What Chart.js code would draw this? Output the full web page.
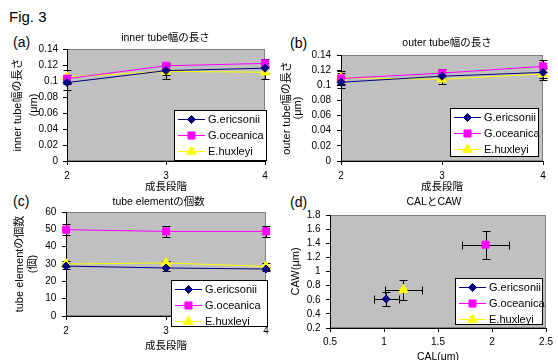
<!DOCTYPE html>
<html>
<head>
<meta charset="utf-8">
<script src="https://cdn.jsdelivr.net/npm/chart.js@4.4.0/dist/chart.umd.min.js"></script>
<style>
body { margin: 0; background: #fff; width: 558px; height: 360px; position: relative; overflow: hidden;
       font-family: "Liberation Sans", "Noto Sans CJK JP", sans-serif; }
.lbl { position: absolute; font-size: 14px; line-height: 1; color: #000; }
canvas { position: absolute; }
</style>
</head>
<body>
<div class="lbl" style="left:9px;top:9px;font-size:15px">Fig. 3</div>
<div class="lbl" style="left:13px;top:35px">(a)</div>
<div class="lbl" style="left:290px;top:36px">(b)</div>
<div class="lbl" style="left:13px;top:194px">(c)</div>
<div class="lbl" style="left:290px;top:195px">(d)</div>

<canvas id="chartA" width="279" height="170" style="left:0;top:25px"></canvas>
<canvas id="chartB" width="279" height="170" style="left:279px;top:25px"></canvas>
<canvas id="chartC" width="279" height="170" style="left:0;top:190px"></canvas>
<canvas id="chartD" width="279" height="175" style="left:279px;top:190px"></canvas>

<script>
// 成長段階とシリーズ名
var stages = ['2', '3', '4'];
var seriesNames = ['G.ericsonii', 'G.oceanica', 'E.huxleyi'];

// (a) inner tube幅の長さ (μm)
var innerEri = [0.098, 0.113, 0.116];
var innerOce = [0.103, 0.119, 0.122];
var innerHux = [0.105, 0.112, 0.111];
var innerEriErr = [0.009, 0.006, 0.006];
var innerOceErr = [0.005, 0.004, 0.005];
var innerHuxErr = [0.009, 0.009, 0.008];

// (b) outer tube幅の長さ (μm)
var outerEri = [0.104, 0.112, 0.117];
var outerOce = [0.109, 0.116, 0.125];
var outerHux = [0.110, 0.108, 0.115];
var outerEriErr = [0.007, 0.006, 0.008];
var outerOceErr = [0.007, 0.006, 0.008];
var outerHuxErr = [0.009, 0.006, 0.008];

// (c) tube elementの個数
var countEri = [28.8, 27.7, 27.1];
var countOce = [49.8, 48.8, 48.8];
var countHux = [30.0, 30.6, 28.6];
var countEriErr = [1.5, 1.6, 1.4];
var countOceErr = [3.1, 3.0, 3.0];
var countHuxErr = [1.5, 1.3, 2.0];

// (d) CALとCAW (μm)
var calX = [1.02, 1.94, 1.18];
var cawY = [0.61, 1.38, 0.74];
var calErr = [0.115, 0.22, 0.175];
var cawErr = [0.10, 0.20, 0.14];

// 目盛り
var tubeTicks = [0, 0.02, 0.04, 0.06, 0.08, 0.1, 0.12, 0.14];
var tubeTickLabels = ['0', '0.02', '0.04', '0.06', '0.08', '0.1', '0.12', '0.14'];
var countTicks = [0, 10, 20, 30, 40, 50, 60];
var countTickLabels = ['0', '10', '20', '30', '40', '50', '60'];
var calTicks = [0.5, 1, 1.5, 2, 2.5];
var calTickLabels = ['0.5', '1', '1.5', '2', '2.5'];
var cawTicks = [0.2, 0.4, 0.6, 0.8, 1, 1.2, 1.4, 1.6, 1.8];
var cawTickLabels = ['0.2', '0.4', '0.6', '0.8', '1', '1.2', '1.4', '1.6', '1.8'];

var FONT = '"Liberation Sans", "Noto Sans CJK JP", sans-serif';
Chart.defaults.font.family = FONT;
Chart.defaults.color = '#000';

var looks = [
    { color: '#000080', style: 'rectRot', radius: 4 },
    { color: '#ff00ff', style: 'rect', radius: 5 },
    { color: '#ffff00', style: 'triangle', radius: 5.5 }
];

// 灰色の背景、誤差範囲、タイトル、凡例を描く
var excelLook = {
    id: 'excelLook',
    beforeDraw: function (chart) {
        var a = chart.chartArea, ctx = chart.ctx;
        ctx.save();
        ctx.fillStyle = '#c0c0c0';
        ctx.fillRect(a.left, a.top, a.right - a.left, a.bottom - a.top);
        ctx.strokeStyle = '#808080';
        ctx.lineWidth = 1;
        ctx.strokeRect(a.left + 0.5, a.top + 0.5, a.right - a.left - 1, a.bottom - a.top - 1);
        ctx.restore();
    },
    beforeDatasetsDraw: function (chart) {
        var ctx = chart.ctx, xs = chart.scales.x, ys = chart.scales.y, cap = 4;
        ctx.save();
        ctx.strokeStyle = '#000';
        ctx.lineWidth = 1;
        chart.data.datasets.forEach(function (ds, di) {
            var meta = chart.getDatasetMeta(di);
            meta.data.forEach(function (pt, i) {
                var v = ds.data[i];
                var yv = typeof v === 'object' ? v.y : v;
                var x = Math.round(pt.x) + 0.5, y = Math.round(pt.y) + 0.5;
                if (ds.errY) {
                    var y1 = Math.round(ys.getPixelForValue(yv - ds.errY[i])) + 0.5;
                    var y2 = Math.round(ys.getPixelForValue(yv + ds.errY[i])) + 0.5;
                    ctx.beginPath();
                    ctx.moveTo(x, y1); ctx.lineTo(x, y2);
                    ctx.moveTo(x - cap, y1); ctx.lineTo(x + cap, y1);
                    ctx.moveTo(x - cap, y2); ctx.lineTo(x + cap, y2);
                    ctx.stroke();
                }
                if (ds.errX) {
                    var x1 = Math.round(xs.getPixelForValue(v.x - ds.errX[i])) + 0.5;
                    var x2 = Math.round(xs.getPixelForValue(v.x + ds.errX[i])) + 0.5;
                    ctx.beginPath();
                    ctx.moveTo(x1, y); ctx.lineTo(x2, y);
                    ctx.moveTo(x1, y - cap); ctx.lineTo(x1, y + cap);
                    ctx.moveTo(x2, y - cap); ctx.lineTo(x2, y + cap);
                    ctx.stroke();
                }
            });
        });
        ctx.restore();
    },
    afterDraw: function (chart, args, opts) {
        var ctx = chart.ctx, a = chart.chartArea;
        ctx.save();
        if (opts.title) {
            ctx.fillStyle = '#000';
            ctx.font = '10.5px ' + FONT;
            ctx.textAlign = 'center';
            ctx.textBaseline = 'middle';
            ctx.fillText(opts.title.text, (a.left + a.right) / 2 + opts.title.dx, opts.title.y);
            ctx.textAlign = 'left';
        }
        if (opts.box) {
            var b = opts.box;
            ctx.fillStyle = '#fff';
            ctx.fillRect(b[0], b[1], b[2], b[3]);
            ctx.strokeStyle = '#000';
            ctx.lineWidth = 1;
            ctx.strokeRect(b[0] + 0.5, b[1] + 0.5, b[2] - 1, b[3] - 1);
            chart.data.datasets.forEach(function (ds, i) {
                var y = Math.round(b[1] + 9 + i * 16) + 0.5;
                ctx.strokeStyle = ds.borderColor;
                ctx.beginPath();
                ctx.moveTo(b[0] + 4, y); ctx.lineTo(b[0] + 31, y);
                ctx.stroke();
                ctx.fillStyle = ds.backgroundColor;
                Chart.helpers.drawPoint(ctx, { pointStyle: ds.pointStyle, radius: ds.pointRadius, borderWidth: 1, rotation: 0 }, b[0] + 17.5, y);
                ctx.fillStyle = '#000';
                ctx.font = '11px ' + FONT;
                ctx.textBaseline = 'middle';
                ctx.fillText(ds.label, b[0] + 34, y);
            });
        }
        ctx.restore();
    }
};

function makeSets(values, errors) {
    return values.map(function (vals, i) {
        return {
            label: seriesNames[i],
            data: vals,
            errY: errors[i],
            borderColor: looks[i].color,
            backgroundColor: looks[i].color,
            pointStyle: looks[i].style,
            pointRadius: looks[i].radius,
            pointBorderWidth: 1,
            borderWidth: 1,
            tension: 0,
            fill: false
        };
    });
}

function lineChart(id, opt) {
    return new Chart(document.getElementById(id), {
        type: 'line',
        data: { labels: stages, datasets: makeSets(opt.values, opt.errors) },
        options: {
            responsive: false,
            animation: false,
            layout: { padding: opt.pad },
            plugins: {
                legend: { display: false },
                tooltip: { enabled: false },
                excelLook: { box: opt.box, title: opt.title }
            },
            scales: {
                x: {
                    type: 'category',
                    offset: false,
                    grid: { drawOnChartArea: false, tickLength: 4, color: '#000' },
                    border: { color: '#000' },
                    ticks: { padding: 5, font: { size: 10 }, maxRotation: 0, autoSkip: false },
                    title: { display: true, text: '成長段階', font: { size: 10.5 }, padding: { top: 0, bottom: opt.xTitlePad } },
                    afterFit: function (s) { s.height = opt.xHeight; }
                },
                y: {
                    min: opt.ticks[0],
                    max: opt.ticks[opt.ticks.length - 1],
                    afterBuildTicks: function (s) { s.ticks = opt.ticks.map(function (v) { return { value: v }; }); },
                    grid: { drawOnChartArea: false, tickLength: 4, color: '#000' },
                    border: { color: '#000' },
                    ticks: { padding: opt.yTickPad, font: { size: 10 }, autoSkip: false,
                             callback: function (v, i) { return opt.tickLabels[i]; } },
                    title: { display: true, text: opt.yTitle, font: { size: 11, lineHeight: opt.yLine },
                             padding: { top: opt.yTitlePad, bottom: 0 } },
                    afterFit: function (s) { s.width = opt.yWidth; }
                }
            }
        },
        plugins: [excelLook]
    });
}

lineChart('chartA', {
    title: { text: 'inner tube幅の長さ', dx: -0.5, y: 13 },
    values: [innerEri, innerOce, innerHux],
    errors: [innerEriErr, innerOceErr, innerHuxErr],
    ticks: tubeTicks, tickLabels: tubeTickLabels,
    yTitle: ['inner tube幅の長さ', '(μm)'], yLine: 1.41, yTitlePad: 10.5,
    pad: { left: 0, top: 24, right: 14, bottom: 0 },
    xHeight: 34, xTitlePad: 2, yWidth: 67, yTickPad: 5,
    box: [174, 85, 93, 51]
});

lineChart('chartB', {
    title: { text: 'outer tube幅の長さ', dx: 5, y: 18 },
    values: [outerEri, outerOce, outerHux],
    errors: [outerEriErr, outerOceErr, outerHuxErr],
    ticks: tubeTicks, tickLabels: tubeTickLabels,
    yTitle: ['outer tube幅の長さ', '(μm)'], yLine: 1.0, yTitlePad: 2.8,
    pad: { left: 0, top: 30, right: 15, bottom: 0 },
    xHeight: 34, xTitlePad: 2, yWidth: 62, yTickPad: 6,
    box: [171, 83, 89, 49]
});

lineChart('chartC', {
    title: { text: 'tube elementの個数', dx: -7.4, y: 12 },
    values: [countEri, countOce, countHux],
    errors: [countEriErr, countOceErr, countHuxErr],
    ticks: countTicks, tickLabels: countTickLabels,
    yTitle: ['tube elementの個数', '(個)'], yLine: 1.21, yTitlePad: 13.4,
    pad: { left: 0, top: 22, right: 13, bottom: 0 },
    xHeight: 44, xTitlePad: 8, yWidth: 66, yTickPad: 5.7,
    box: [171, 90, 97, 47]
});

// (d) 散布図
new Chart(document.getElementById('chartD'), {
    type: 'scatter',
    data: {
        datasets: calX.map(function (x, i) {
            return {
                label: seriesNames[i],
                data: [{ x: x, y: cawY[i] }],
                errX: [calErr[i]],
                errY: [cawErr[i]],
                borderColor: looks[i].color,
                backgroundColor: looks[i].color,
                pointStyle: looks[i].style,
                pointRadius: looks[i].radius,
                pointBorderWidth: 1
            };
        })
    },
    options: {
        responsive: false,
        animation: false,
        layout: { padding: { left: 0, top: 25, bottom: 0, right: 12 } },
        plugins: {
            legend: { display: false },
            tooltip: { enabled: false },
            excelLook: { box: [176, 88, 88, 47], title: { text: 'CALとCAW', dx: -4, y: 12 } }
        },
        scales: {
            x: {
                type: 'linear',
                min: calTicks[0], max: calTicks[calTicks.length - 1],
                afterBuildTicks: function (s) { s.ticks = calTicks.map(function (v) { return { value: v }; }); },
                grid: { drawOnChartArea: false, tickLength: 4, color: '#000' },
                border: { color: '#000' },
                ticks: { padding: 4, font: { size: 10 }, maxRotation: 0, autoSkip: false,
                         callback: function (v, i) { return calTickLabels[i]; } },
                title: { display: true, text: 'CAL(μm)', font: { size: 10.5 }, padding: { top: 0, bottom: 2 } },
                afterFit: function (s) { s.height = 37; }
            },
            y: {
                min: cawTicks[0], max: cawTicks[cawTicks.length - 1],
                afterBuildTicks: function (s) { s.ticks = cawTicks.map(function (v) { return { value: v }; }); },
                grid: { drawOnChartArea: false, tickLength: 4, color: '#000' },
                border: { color: '#000' },
                ticks: { padding: 5.4, font: { size: 10 }, autoSkip: false,
                         callback: function (v, i) { return cawTickLabels[i]; } },
                title: { display: true, text: 'CAW(μm)', font: { size: 11 }, padding: { top: 9.9, bottom: 0 } },
                afterFit: function (s) { s.width = 51; }
            }
        }
    },
    plugins: [excelLook]
});
</script>
</body>
</html>
